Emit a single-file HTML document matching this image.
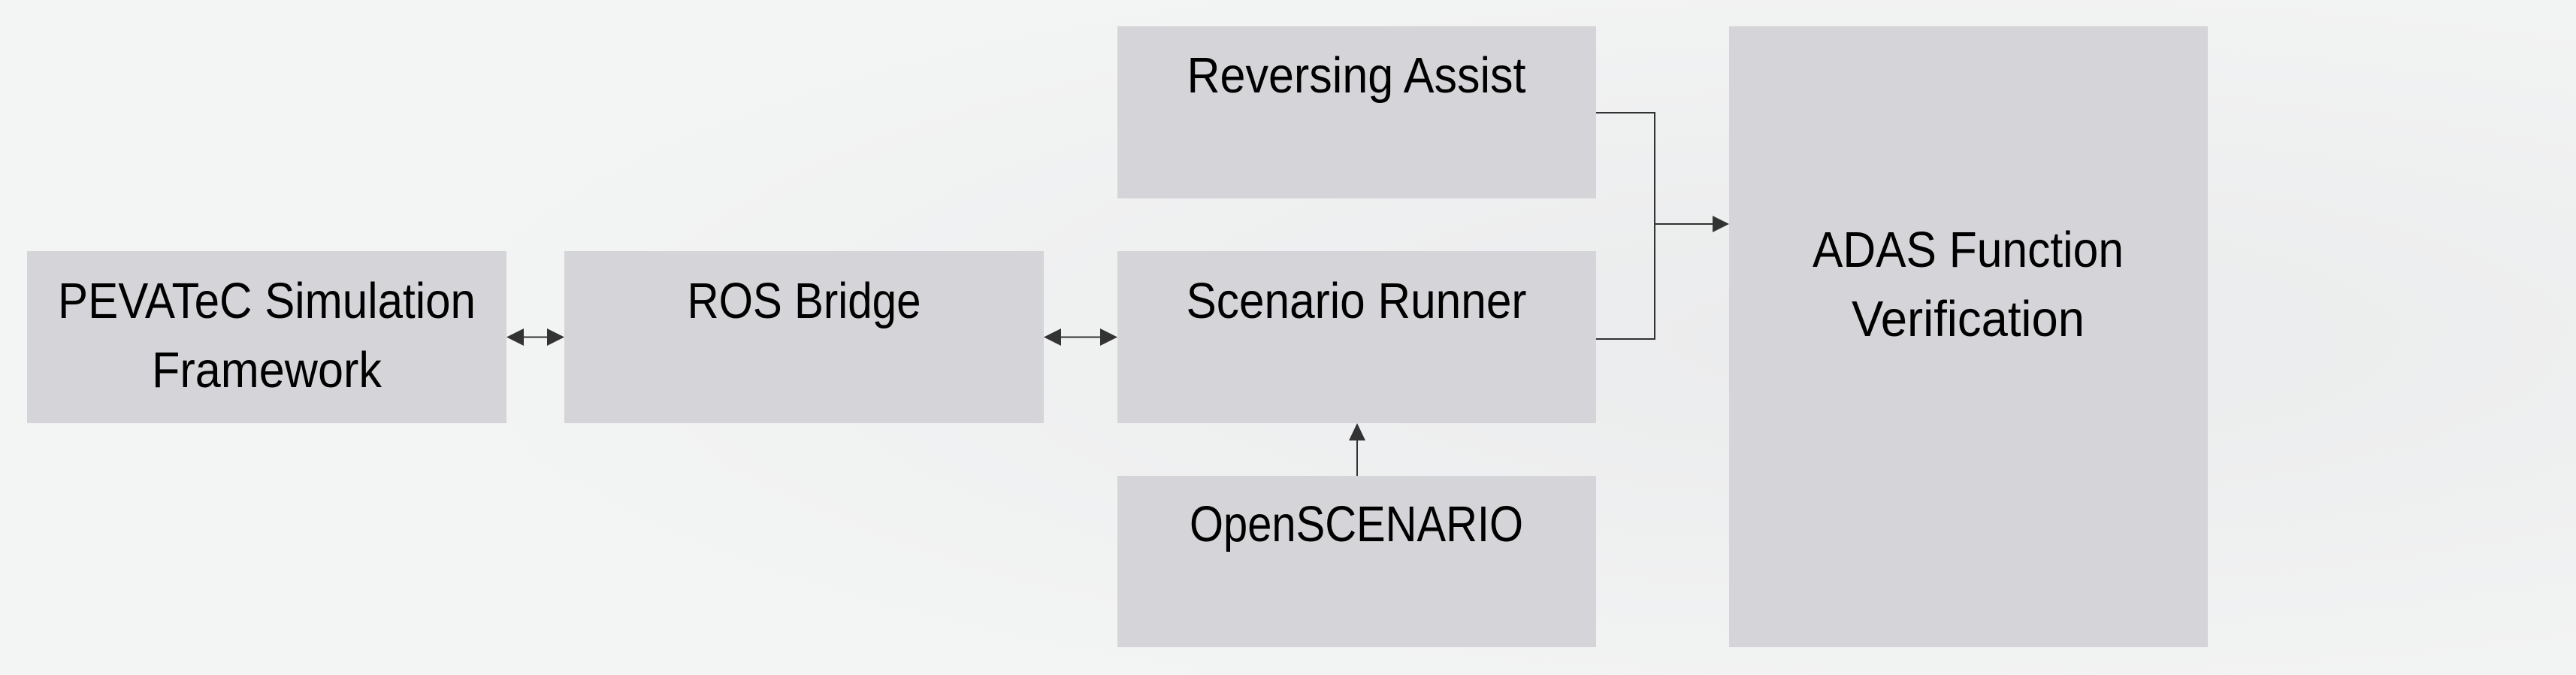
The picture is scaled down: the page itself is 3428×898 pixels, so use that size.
<!DOCTYPE html>
<html><head><meta charset="utf-8"><style>
html,body{margin:0;padding:0;width:3428px;height:898px;overflow:hidden;background:#f2f3f3}
svg{display:block}
text{font-family:"Liberation Sans",sans-serif;font-size:67px;fill:#000}
</style></head><body>
<svg width="3428" height="898" viewBox="0 0 3428 898" xmlns="http://www.w3.org/2000/svg">
<defs><radialGradient id="g" cx="0.75" cy="0.5" r="0.6"><stop offset="0" stop-color="#eaebec"/><stop offset="1" stop-color="#f3f4f4"/></radialGradient></defs>
<rect width="3428" height="898" fill="url(#g)"/>
<g fill="#d5d5d9">
<rect x="36" y="334" width="638" height="229"/>
<rect x="751" y="334" width="638" height="229"/>
<rect x="1487" y="35" width="637" height="229"/>
<rect x="1487" y="334" width="637" height="229"/>
<rect x="1487" y="633" width="637" height="228"/>
<rect x="2301" y="35" width="637" height="826"/>
</g>
<g stroke="#333" stroke-width="2" fill="none">
<line x1="696" y1="448.5" x2="729" y2="448.5"/>
<line x1="1411" y1="448.5" x2="1465" y2="448.5"/>
<polyline points="2124,150 2202,150 2202,451 2124,451"/>
<line x1="2202" y1="298" x2="2280" y2="298"/>
<line x1="1806" y1="633" x2="1806" y2="585"/>
</g>
<g fill="#333">
<polygon points="674,448.5 697,437 697,460"/>
<polygon points="751,448.5 728,437 728,460"/>
<polygon points="1389,448.5 1412,437 1412,460"/>
<polygon points="1487,448.5 1464,437 1464,460"/>
<polygon points="2301,298 2279,287 2279,309"/>
<polygon points="1806,563 1795,586 1817,586"/>
</g>
<g text-anchor="middle">
<text x="355" y="423" textLength="556" lengthAdjust="spacingAndGlyphs">PEVATeC Simulation</text>
<text x="355" y="515" textLength="306" lengthAdjust="spacingAndGlyphs">Framework</text>
<text x="1070" y="423" textLength="311" lengthAdjust="spacingAndGlyphs">ROS Bridge</text>
<text x="1805" y="123" textLength="451" lengthAdjust="spacingAndGlyphs">Reversing Assist</text>
<text x="1805" y="423" textLength="453" lengthAdjust="spacingAndGlyphs">Scenario Runner</text>
<text x="1805" y="720" textLength="444" lengthAdjust="spacingAndGlyphs">OpenSCENARIO</text>
<text x="2619" y="355" textLength="414" lengthAdjust="spacingAndGlyphs">ADAS Function</text>
<text x="2619" y="447" textLength="310" lengthAdjust="spacingAndGlyphs">Verification</text>
</g>
</svg>
</body></html>
